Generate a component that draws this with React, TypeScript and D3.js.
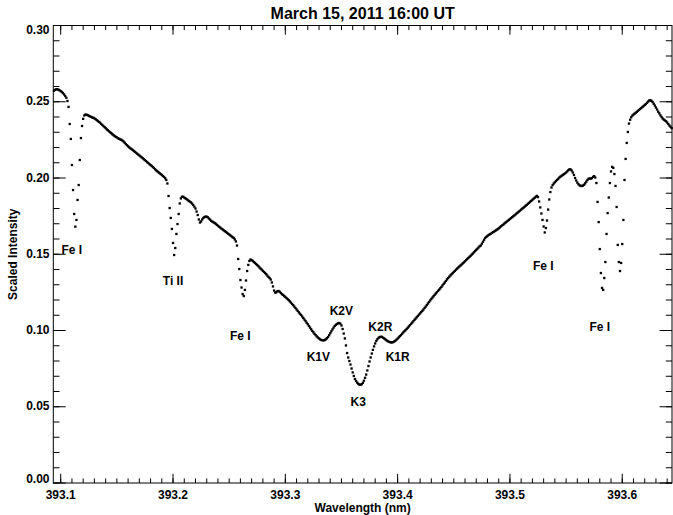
import React from 'react';
import * as d3 from 'd3';

// spectrum sampled on a regular wavelength grid (nm)
const waveStart = 393.094;
const waveStep = 0.001;

const intensityBlueWing = [
  0.2572, 0.2578, 0.2582, 0.2582, 0.2579, 0.2575, 0.2570, 0.2564, 0.2557, 0.2548,
  0.2538, 0.2526, 0.2505, 0.2466, 0.2354, 0.2256, 0.2085, 0.1921, 0.1764, 0.1681,
  0.1725, 0.1856, 0.1954, 0.2118, 0.2262, 0.2341, 0.2388, 0.2410, 0.2416, 0.2415,
  0.2412, 0.2408, 0.2404, 0.2401, 0.2397, 0.2395, 0.2391, 0.2386, 0.2380, 0.2374,
  0.2368, 0.2363, 0.2355, 0.2348, 0.2341, 0.2334, 0.2327, 0.2319, 0.2313, 0.2306,
  0.2300, 0.2294, 0.2287, 0.2281, 0.2275, 0.2270, 0.2266, 0.2261, 0.2257, 0.2253,
  0.2250, 0.2245, 0.2239, 0.2231, 0.2222, 0.2215, 0.2208, 0.2201, 0.2195, 0.2190,
  0.2184, 0.2178, 0.2172, 0.2166, 0.2160, 0.2154, 0.2148, 0.2142, 0.2136, 0.2130,
  0.2123, 0.2117, 0.2111, 0.2104, 0.2098, 0.2091, 0.2085, 0.2079, 0.2072, 0.2066,
  0.2057, 0.2050, 0.2044, 0.2038, 0.2032, 0.2026, 0.2020, 0.2013, 0.2007, 0.1999,
  0.1987, 0.1964, 0.1882, 0.1803, 0.1738, 0.1666, 0.1574, 0.1495, 0.1541, 0.1633,
  0.1698, 0.1764, 0.1833, 0.1866, 0.1877, 0.1877, 0.1872, 0.1867, 0.1862, 0.1856,
  0.1850, 0.1845, 0.1840, 0.1832, 0.1823, 0.1812, 0.1800, 0.1780, 0.1757, 0.1728,
  0.1708, 0.1715, 0.1728, 0.1738, 0.1744, 0.1747, 0.1746, 0.1742, 0.1734, 0.1727,
  0.1719, 0.1714, 0.1710, 0.1705, 0.1700, 0.1693, 0.1687, 0.1681, 0.1675, 0.1669,
  0.1664, 0.1658, 0.1652, 0.1647, 0.1641, 0.1635, 0.1630, 0.1624, 0.1618, 0.1612,
  0.1607, 0.1597, 0.1584, 0.1557, 0.1469, 0.1403, 0.1331, 0.1282, 0.1239, 0.1226,
  0.1266, 0.1328, 0.1390, 0.1430, 0.1456, 0.1466, 0.1461, 0.1456, 0.1449, 0.1443,
  0.1436, 0.1429, 0.1422, 0.1413, 0.1406, 0.1399, 0.1391, 0.1384, 0.1377, 0.1369,
  0.1360, 0.1351, 0.1344, 0.1334, 0.1315, 0.1289, 0.1262, 0.1248, 0.1251, 0.1258,
  0.1259, 0.1254, 0.1246, 0.1238, 0.1233, 0.1226, 0.1220, 0.1213, 0.1206, 0.1199,
  0.1191, 0.1183, 0.1174, 0.1166, 0.1157, 0.1148, 0.1138, 0.1129, 0.1119, 0.1110,
];

const intensityCore = [
  0.1102, 0.1092, 0.1082, 0.1072, 0.1062, 0.1051, 0.1041, 0.1030, 0.1019, 0.1008,
  0.0997, 0.0988, 0.0978, 0.0970, 0.0961, 0.0954, 0.0948, 0.0942, 0.0938, 0.0936,
  0.0935, 0.0937, 0.0942, 0.0949, 0.0957, 0.0969, 0.0982, 0.0995, 0.1007, 0.1019,
  0.1030, 0.1037, 0.1043, 0.1047, 0.1049, 0.1045, 0.1033, 0.1010, 0.0980, 0.0948,
  0.0902, 0.0852, 0.0823, 0.0800, 0.0777, 0.0751, 0.0725, 0.0702, 0.0682, 0.0669,
  0.0658, 0.0650, 0.0645, 0.0644, 0.0648, 0.0657, 0.0671, 0.0690, 0.0711, 0.0738,
  0.0767, 0.0797, 0.0823, 0.0849, 0.0873, 0.0896, 0.0915, 0.0931, 0.0943, 0.0952,
  0.0957, 0.0959, 0.0958, 0.0953, 0.0948, 0.0942, 0.0936, 0.0931, 0.0927, 0.0924,
  0.0922, 0.0922, 0.0924, 0.0928, 0.0933, 0.0940, 0.0947, 0.0955, 0.0963, 0.0970,
  0.0979, 0.0987, 0.0995, 0.1002, 0.1010, 0.1018, 0.1027, 0.1035, 0.1044, 0.1052,
];

const intensityRedWing = [
  0.1061, 0.1070, 0.1078, 0.1087, 0.1095, 0.1104, 0.1112, 0.1121, 0.1129, 0.1138,
  0.1148, 0.1157, 0.1167, 0.1177, 0.1187, 0.1197, 0.1207, 0.1216, 0.1225, 0.1234,
  0.1243, 0.1251, 0.1260, 0.1268, 0.1277, 0.1286, 0.1296, 0.1306, 0.1315, 0.1325,
  0.1335, 0.1344, 0.1353, 0.1361, 0.1369, 0.1376, 0.1384, 0.1391, 0.1399, 0.1406,
  0.1413, 0.1420, 0.1426, 0.1433, 0.1440, 0.1447, 0.1454, 0.1462, 0.1469, 0.1476,
  0.1483, 0.1490, 0.1498, 0.1505, 0.1513, 0.1521, 0.1529, 0.1536, 0.1544, 0.1552,
  0.1557, 0.1569, 0.1582, 0.1595, 0.1607, 0.1614, 0.1620, 0.1626, 0.1631, 0.1635,
  0.1640, 0.1645, 0.1649, 0.1654, 0.1659, 0.1664, 0.1670, 0.1676, 0.1683, 0.1689,
  0.1694, 0.1701, 0.1707, 0.1713, 0.1719, 0.1725, 0.1731, 0.1737, 0.1743, 0.1749,
  0.1755, 0.1761, 0.1768, 0.1774, 0.1780, 0.1786, 0.1793, 0.1799, 0.1805, 0.1811,
  0.1818, 0.1824, 0.1831, 0.1837, 0.1844, 0.1850, 0.1857, 0.1864, 0.1870, 0.1877,
  0.1883, 0.1875, 0.1846, 0.1807, 0.1767, 0.1725, 0.1682, 0.1643, 0.1672, 0.1721,
  0.1793, 0.1859, 0.1908, 0.1938, 0.1954, 0.1964, 0.1972, 0.1980, 0.1988, 0.1995,
  0.2003, 0.2009, 0.2014, 0.2020, 0.2025, 0.2030, 0.2036, 0.2043, 0.2051, 0.2057,
  0.2056, 0.2049, 0.2036, 0.2020, 0.2000, 0.1984, 0.1970, 0.1959, 0.1952, 0.1948,
  0.1948, 0.1950, 0.1956, 0.1965, 0.1976, 0.1987, 0.1995, 0.1997, 0.1996, 0.1999,
  0.2007, 0.2012, 0.2003, 0.1967, 0.1843, 0.1711, 0.1534, 0.1377, 0.1279, 0.1266,
  0.1344, 0.1449, 0.1633, 0.1770, 0.1872, 0.1967, 0.2043, 0.2073, 0.2066, 0.2026,
  0.1948, 0.1810, 0.1561, 0.1449, 0.1390, 0.1443, 0.1567, 0.1725, 0.1987, 0.2125,
  0.2230, 0.2302, 0.2357, 0.2382, 0.2398, 0.2409, 0.2416, 0.2422, 0.2428, 0.2434,
  0.2441, 0.2447, 0.2453, 0.2459, 0.2466, 0.2472, 0.2479, 0.2485, 0.2493, 0.2501,
  0.2508, 0.2510, 0.2506, 0.2498, 0.2487, 0.2475, 0.2462, 0.2449, 0.2435, 0.2424,
  0.2411, 0.2400, 0.2390, 0.2383, 0.2377, 0.2372, 0.2364, 0.2354, 0.2344, 0.2336,
  0.2327,
];

// line identifications
const lineLabels = ['Fe I', 'Ti II', 'Fe I', 'K1V', 'K2V', 'K3', 'K2R', 'K1R', 'Fe I', 'Fe I'];
const lineLabelWave = [393.1098, 393.2, 393.2599, 393.3294, 393.3499, 393.3649, 393.3846, 393.4, 393.5297, 393.58];
const lineLabelIntensity = [0.1528, 0.1325, 0.0964, 0.083, 0.1131, 0.0531, 0.1023, 0.0826, 0.1423, 0.1023];

const waveTicks = [393.1, 393.2, 393.3, 393.4, 393.5, 393.6];
const intensityTicks = [0, 0.05, 0.1, 0.15, 0.2, 0.25, 0.3];

const W = 673;
const H = 515;
const FONT = '"Liberation Sans", Arial, Helvetica, sans-serif';

export default function App() {
  const intensity = [...intensityBlueWing, ...intensityCore, ...intensityRedWing];
  const points = intensity.map((v, i) => ({ w: waveStart + i * waveStep, v }));

  const x = d3.scaleLinear().domain([393.0934, 393.6443]).range([53.3, 672]);
  const y = d3.scaleLinear().domain([0, 0.3]).range([483, 25.5]);
  const [x0, x1] = x.range();
  const [y0, y1] = y.range();

  const xMinor = d3.range(0, 60).map(i => 393.09 + i * 0.01).filter(w => w >= 393.0934 && w <= 393.6443);
  const yMinor = d3.range(0, 31).map(i => i * 0.01);

  const dot = 2.3;

  return (
    <svg width={W} height={H} style={{ position: 'absolute', left: 0, top: 0, background: '#fff' }}
      fontFamily={FONT} fontWeight="bold">
      <text x={(x0 + x1) / 2} y={19} textAnchor="middle" fontSize={16}>March 15, 2011 16:00 UT</text>

      {/* frame */}
      <rect x={x0} y={y1} width={x1 - x0} height={y0 - y1} fill="none" stroke="#000" strokeWidth={1} />

      {/* x ticks, bottom and top */}
      {xMinor.map((w, i) => (
        <g key={'xm' + i} stroke="#000" strokeWidth={1}>
          <line x1={x(w)} x2={x(w)} y1={y0} y2={y0 - 4.6} />
          <line x1={x(w)} x2={x(w)} y1={y1} y2={y1 + 4.6} />
        </g>
      ))}
      {waveTicks.map((w, i) => (
        <g key={'xt' + i}>
          <line x1={x(w)} x2={x(w)} y1={y0} y2={y0 - 9.2} stroke="#000" />
          <line x1={x(w)} x2={x(w)} y1={y1} y2={y1 + 9.2} stroke="#000" />
          <text x={x(w)} y={498.5} textAnchor="middle" fontSize={12}>{d3.format('.1f')(w)}</text>
        </g>
      ))}

      {/* y ticks, left and right */}
      {yMinor.map((v, i) => (
        <g key={'ym' + i} stroke="#000" strokeWidth={1}>
          <line x1={x0} x2={x0 + 6.2} y1={y(v)} y2={y(v)} />
          <line x1={x1} x2={x1 - 6.2} y1={y(v)} y2={y(v)} />
        </g>
      ))}
      {intensityTicks.map((v, i) => (
        <g key={'yt' + i}>
          <line x1={x0} x2={x0 + 12.4} y1={y(v)} y2={y(v)} stroke="#000" />
          <line x1={x1} x2={x1 - 12.4} y1={y(v)} y2={y(v)} stroke="#000" />
          <text x={49.5} y={Math.max(34, Math.min(483.3, y(v) + 3.6))} textAnchor="end" fontSize={12}>
            {d3.format('.2f')(v)}
          </text>
        </g>
      ))}

      {/* spectrum points */}
      <g fill="#000">
        {points.map((p, i) => (
          <rect key={i} x={x(p.w) - dot / 2} y={y(p.v) - dot / 2} width={dot} height={dot} />
        ))}
      </g>

      {/* line labels */}
      {lineLabels.map((t, i) => (
        <text key={'lab' + i} x={x(lineLabelWave[i])} y={y(lineLabelIntensity[i])} dy="0.35em"
          textAnchor="middle" fontSize={12}>{t}</text>
      ))}

      <text x={(x0 + x1) / 2} y={511.5} textAnchor="middle" fontSize={12}>Wavelength (nm)</text>
      <text transform={`translate(16.5,${(y0 + y1) / 2}) rotate(-90)`} textAnchor="middle" fontSize={12}>
        Scaled Intensity
      </text>
    </svg>
  );
}
